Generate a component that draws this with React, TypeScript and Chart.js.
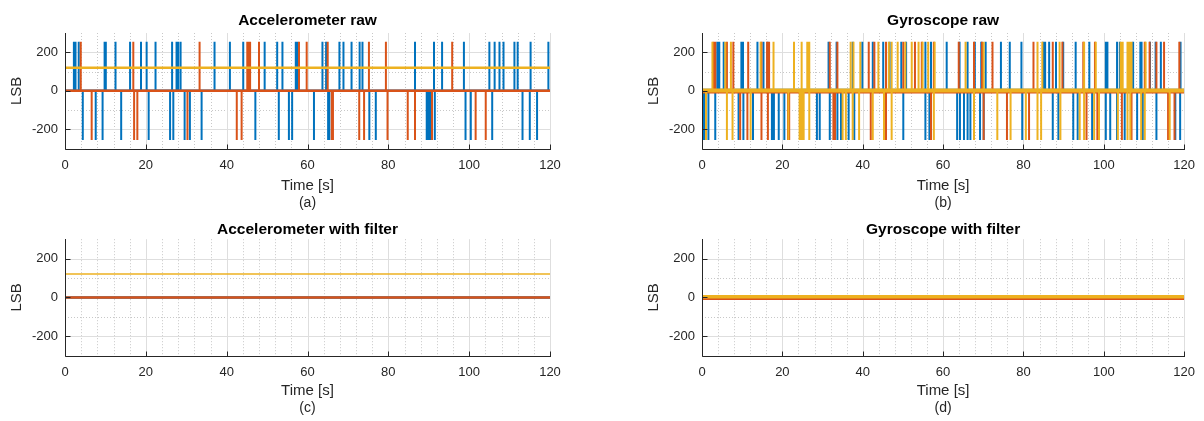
import React, { useEffect, useRef } from 'react';
import { Chart, registerables } from 'chart.js';
Chart.register(...registerables);

// ---------------- data ----------------
const T_START = 0;
const T_END = 120;
const SPIKE_HIGH = 255;
const SPIKE_LOW = -256;

const X_TICKS = [0, 20, 40, 60, 80, 100, 120];
const X_MINOR_TICKS = [4, 8, 12, 16, 24, 28, 32, 36, 44, 48, 52, 56, 64, 68, 72, 76, 84, 88, 92, 96, 104, 108, 112, 116];
const Y_TICKS = [-200, 0, 200];
const Y_MINOR_TICKS = [-100, 100];

// baseline levels: [blue, red, yellow]
const ACC_RAW_LEVELS = [0, 0, 120];
const ACC_FILT_LEVELS = [0, 0, 121];
const GYR_RAW_LEVELS = [0, -3, 2];
const GYR_FILT_LEVELS = [0, -6, 3];

// Accelerometer raw spikes (times in s)
const ACC_BLUE_UP = [2.2, 2.6, 3.4, 9.8, 10.1, 12.5, 16.1, 18.8, 20.2, 22.4, 26.5, 27.6, 28.0, 28.6, 37.0, 40.8, 44.1, 49.4, 52.5, 53.8, 57.1, 57.5, 63.7, 64.6, 67.9, 68.9, 70.9, 72.9, 73.6, 86.6, 91.3, 93.3, 98.7, 105.0, 106.3, 107.5, 108.5, 111.2, 112.0, 115.2, 119.6];
const ACC_BLUE_DOWN = [4.4, 7.6, 9.3, 13.9, 20.7, 26.0, 26.8, 29.6, 30.9, 33.8, 47.1, 52.9, 55.4, 56.2, 61.6, 65.1, 65.4, 75.3, 76.9, 89.5, 89.8, 90.1, 90.5, 91.5, 99.1, 100.4, 105.7, 113.2, 115.0, 116.8];
const ACC_RED_UP = [3.9, 16.9, 33.3, 45.1, 45.4, 45.8, 48.0, 57.9, 59.8, 65.0, 75.2, 79.4, 95.8];
const ACC_RED_DOWN = [6.6, 17.1, 17.9, 30.3, 42.5, 43.7, 66.0, 66.3, 72.8, 74.0, 79.8, 84.8, 86.6, 90.8, 101.6, 104.1];
const ACC_YEL_UP: number[] = [];
const ACC_YEL_DOWN: number[] = [];

// Gyroscope raw spikes (times in s)
const GYR_BLUE_UP = [3.8, 4.3, 5.4, 9.8, 10.2, 13.8, 15.3, 16.3, 31.5, 33.5, 37.5, 39.9, 42.5, 45.1, 46.7, 49.6, 50.8, 55.6, 57.0, 60.9, 64.1, 66.1, 67.9, 69.5, 70.6, 74.4, 76.6, 79.5, 84.9, 85.4, 86.4, 88.1, 89.9, 93.0, 96.4, 100.5, 100.9, 103.3, 104.0, 107.3, 109.1, 109.4, 111.5, 112.9, 114.2, 119.1];
const GYR_BLUE_DOWN = [0.5, 1.6, 3.3, 9.1, 10.3, 12.7, 17.4, 17.9, 19.1, 20.5, 28.6, 29.3, 31.8, 33.7, 34.6, 36.5, 37.9, 50.1, 55.6, 56.6, 63.5, 64.2, 65.2, 66.1, 66.8, 69.2, 70.1, 79.7, 87.3, 88.7, 92.4, 93.5, 97.1, 100.5, 101.6, 103.3, 105.2, 108.3, 109.7, 113.1, 117.8, 119.0];
const GYR_RED_UP = [2.9, 3.3, 6.2, 7.8, 11.5, 14.8, 16.2, 16.7, 31.8, 33.7, 41.5, 42.9, 45.8, 50.1, 53.0, 54.7, 57.7, 63.9, 67.7, 69.7, 72.3, 82.5, 87.3, 89.7, 94.9, 97.8, 110.2, 111.4, 113.1, 115.0, 118.8];
const GYR_RED_DOWN = [9.5, 11.3, 14.8, 16.4, 21.4, 21.7, 32.7, 33.1, 42.0, 45.8, 57.0, 70.1, 75.9, 81.4, 95.7, 98.4, 104.5, 106.9, 116.0, 117.6];
const GYR_YEL_UP = [2.6, 5.8, 7.2, 14.6, 17.8, 22.9, 24.8, 26.2, 26.7, 37.0, 37.7, 39.4, 43.9, 46.5, 47.2, 48.7, 50.6, 52.2, 53.9, 54.9, 56.3, 57.9, 65.6, 70.1, 83.5, 84.7, 89.0, 95.1, 98.0, 104.2, 104.7, 105.9, 106.4, 106.9, 110.4];
const GYR_YEL_DOWN = [1.0, 6.2, 7.6, 12.1, 21.5, 24.3, 24.8, 25.3, 26.7, 35.0, 35.8, 37.5, 39.1, 42.5, 45.3, 47.2, 57.7, 67.7, 73.5, 76.8, 80.6, 83.5, 84.4, 89.2, 94.0, 95.1, 97.6, 98.8, 103.5, 105.9, 106.6, 109.3, 110.2, 116.4];

// ---------------- styling ----------------
const FONT = "'Liberation Sans', Arial, Helvetica, sans-serif";
const COLORS = ['#0072BD', '#D95319', '#EDB120'];
const AX = '#262626';

type Pt = { x: number; y: number | null };

function spikePoints(up: number[], down: number[], level: number): Pt[] {
  const all = [
    ...up.map((t) => ({ t, v: SPIKE_HIGH })),
    ...down.map((t) => ({ t, v: SPIKE_LOW })),
  ].sort((a, b) => a.t - b.t);
  const pts: Pt[] = [];
  for (const s of all) {
    pts.push({ x: s.t, y: level });
    pts.push({ x: s.t, y: s.v });
    pts.push({ x: s.t, y: null });
  }
  return pts;
}

function buildDatasets(
  levels: number[],
  spikes: [number[], number[]][],
  baseWidths: number[],
  spikeWidth: number
) {
  const ds: any[] = [];
  levels.forEach((lvl, i) => {
    const order = (3 - i) * 2;
    ds.push({
      data: spikePoints(spikes[i][0], spikes[i][1], lvl),
      borderColor: COLORS[i],
      borderWidth: spikeWidth,
      pointRadius: 0,
      spanGaps: false,
      order,
    });
    ds.push({
      data: [
        { x: T_START, y: lvl },
        { x: T_END, y: lvl },
      ],
      borderColor: COLORS[i],
      borderWidth: baseWidths[i],
      pointRadius: 0,
      order: order - 1,
    });
  });
  return ds;
}

const matlabAxes = {
  id: 'matlabAxes',
  beforeDatasetsDraw(chart: any) {
    const { ctx, chartArea: a, scales } = chart;
    const x = scales.x;
    const y = scales.y;
    ctx.save();
    ctx.lineWidth = 1;
    ctx.strokeStyle = '#c8c8c8';
    ctx.setLineDash([1, 2]);
    ctx.beginPath();
    for (const v of X_MINOR_TICKS) {
      const p = Math.round(x.getPixelForValue(v)) + 0.5;
      ctx.moveTo(p, a.top);
      ctx.lineTo(p, a.bottom);
    }
    for (const v of Y_MINOR_TICKS) {
      const p = Math.round(y.getPixelForValue(v)) + 0.5;
      ctx.moveTo(a.left, p);
      ctx.lineTo(a.right, p);
    }
    ctx.stroke();
    ctx.setLineDash([]);
    ctx.strokeStyle = '#dedede';
    ctx.beginPath();
    for (const v of X_TICKS) {
      const p = Math.round(x.getPixelForValue(v)) + 0.5;
      ctx.moveTo(p, a.top);
      ctx.lineTo(p, a.bottom);
    }
    for (const v of Y_TICKS) {
      const p = Math.round(y.getPixelForValue(v)) + 0.5;
      ctx.moveTo(a.left, p);
      ctx.lineTo(a.right, p);
    }
    ctx.stroke();
    ctx.restore();
  },
  afterDatasetsDraw(chart: any) {
    const { ctx, chartArea: a, scales } = chart;
    const x = scales.x;
    const y = scales.y;
    const l = Math.round(a.left) + 0.5;
    const b = Math.round(a.bottom) + 0.5;
    ctx.save();
    ctx.strokeStyle = AX;
    ctx.lineWidth = 1;
    ctx.beginPath();
    ctx.moveTo(l, Math.round(a.top));
    ctx.lineTo(l, b);
    ctx.lineTo(Math.round(a.right) + 1, b);
    for (const v of X_TICKS) {
      const p = Math.round(x.getPixelForValue(v)) + 0.5;
      ctx.moveTo(p, b);
      ctx.lineTo(p, b - 5);
    }
    for (const v of Y_TICKS) {
      const p = Math.round(y.getPixelForValue(v)) + 0.5;
      ctx.moveTo(l, p);
      ctx.lineTo(l + 5, p);
    }
    ctx.stroke();
    ctx.restore();
  },
};

interface Layout {
  padLeft: number;
  padRight: number;
  titlePad: { top: number; bottom: number };
  xHeight: number;
  xTitlePadBottom: number;
  subPadBottom: number;
}

function makeConfig(title: string, sub: string, datasets: any[], L: Layout): any {
  return {
    type: 'line',
    data: { datasets },
    plugins: [matlabAxes],
    options: {
      animation: false,
      responsive: false,
      devicePixelRatio: 1,
      parsing: true,
      normalized: true,
      events: [],
      layout: { padding: { left: L.padLeft, right: L.padRight, top: 0, bottom: 0 } },
      elements: { line: { tension: 0, borderCapStyle: 'butt' } },
      plugins: {
        legend: { display: false },
        tooltip: { enabled: false },
        title: {
          display: true,
          text: title,
          color: '#000',
          fullSize: false,
          font: { family: FONT, size: 15.5, weight: 'bold', lineHeight: 1.2 },
          padding: L.titlePad,
        },
        subtitle: {
          display: true,
          position: 'bottom',
          text: sub,
          color: AX,
          fullSize: false,
          font: { family: FONT, size: 14, lineHeight: 1.2 },
          padding: { top: 0, bottom: L.subPadBottom },
        },
      },
      scales: {
        x: {
          type: 'linear',
          min: T_START,
          max: T_END,
          grid: { display: false, drawTicks: false },
          border: { display: false },
          ticks: {
            stepSize: 20,
            autoSkip: false,
            maxRotation: 0,
            padding: 9,
            color: AX,
            font: { family: FONT, size: 13, lineHeight: 1.2 },
          },
          title: {
            display: true,
            text: 'Time [s]',
            color: AX,
            font: { family: FONT, size: 15, lineHeight: 1.2 },
            padding: { top: 0, bottom: L.xTitlePadBottom },
          },
          afterFit: (s: any) => {
            s.height = L.xHeight;
          },
        },
        y: {
          type: 'linear',
          min: -300,
          max: 300,
          grid: { display: false, drawTicks: false },
          border: { display: false },
          afterBuildTicks: (s: any) => {
            s.ticks = Y_TICKS.map((v) => ({ value: v }));
          },
          ticks: {
            padding: 7,
            color: AX,
            font: { family: FONT, size: 13, lineHeight: 1.2 },
          },
          title: {
            display: true,
            text: 'LSB',
            color: AX,
            font: { family: FONT, size: 15, lineHeight: 1.2 },
            padding: { top: 8, bottom: 0 },
          },
          afterFit: (s: any) => {
            s.width = 65;
          },
        },
      },
    },
  };
}

const TOP_LAYOUT = { titlePad: { top: 11, bottom: 3.4 }, xHeight: 46.6, xTitlePadBottom: 0, subPadBottom: 3 };
const BOT_LAYOUT = { titlePad: { top: 10.6, bottom: 0 }, xHeight: 44.6, xTitlePadBottom: 0, subPadBottom: 4 };

export default function App() {
  const refA = useRef<HTMLCanvasElement>(null);
  const refB = useRef<HTMLCanvasElement>(null);
  const refC = useRef<HTMLCanvasElement>(null);
  const refD = useRef<HTMLCanvasElement>(null);

  useEffect(() => {
    document.body.style.margin = '0';
    const charts: Chart[] = [];
    charts.push(
      new Chart(
        refA.current!,
        makeConfig(
          'Accelerometer raw',
          '(a)',
          buildDatasets(
            ACC_RAW_LEVELS,
            [
              [ACC_BLUE_UP, ACC_BLUE_DOWN],
              [ACC_RED_UP, ACC_RED_DOWN],
              [ACC_YEL_UP, ACC_YEL_DOWN],
            ],
            [2.5, 2.5, 2.5],
            2
          ),
          { padLeft: 0, padRight: 50, ...TOP_LAYOUT }
        )
      )
    );
    charts.push(
      new Chart(
        refB.current!,
        makeConfig(
          'Gyroscope raw',
          '(b)',
          buildDatasets(
            GYR_RAW_LEVELS,
            [
              [GYR_BLUE_UP, GYR_BLUE_DOWN],
              [GYR_RED_UP, GYR_RED_DOWN],
              [GYR_YEL_UP, GYR_YEL_DOWN],
            ],
            [4, 4, 4],
            2
          ),
          { padLeft: 37, padRight: 17, ...TOP_LAYOUT }
        )
      )
    );
    charts.push(
      new Chart(
        refC.current!,
        makeConfig(
          'Accelerometer with filter',
          '(c)',
          buildDatasets(
            ACC_FILT_LEVELS,
            [
              [[], []],
              [[], []],
              [[], []],
            ],
            [2.5, 2.5, 1.5],
            2
          ),
          { padLeft: 0, padRight: 50, ...BOT_LAYOUT }
        )
      )
    );
    charts.push(
      new Chart(
        refD.current!,
        makeConfig(
          'Gyroscope with filter',
          '(d)',
          buildDatasets(
            GYR_FILT_LEVELS,
            [
              [[], []],
              [[], []],
              [[], []],
            ],
            [3, 3, 3.5],
            2
          ),
          { padLeft: 37, padRight: 17, ...BOT_LAYOUT }
        )
      )
    );
    return () => charts.forEach((c) => c.destroy());
  }, []);

  const abs = (left: number, top: number): React.CSSProperties => ({ position: 'absolute', left, top });
  return (
    <div style={{ position: 'relative', width: 1204, height: 421, background: '#fff' }}>
      <canvas ref={refA} width={600} height={215} style={abs(0, 0)} />
      <canvas ref={refB} width={604} height={215} style={abs(600, 0)} />
      <canvas ref={refC} width={600} height={211} style={abs(0, 210)} />
      <canvas ref={refD} width={604} height={211} style={abs(600, 210)} />
    </div>
  );
}
